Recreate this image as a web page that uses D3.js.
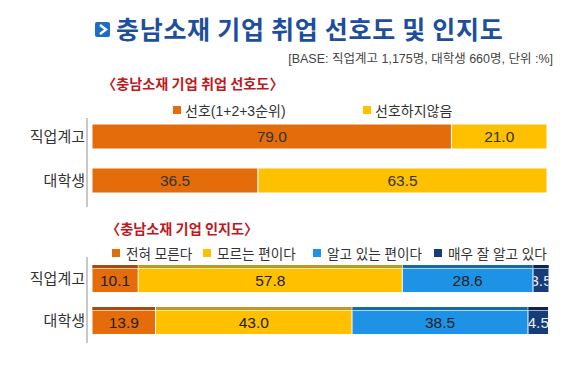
<!DOCTYPE html>
<html><head><meta charset="utf-8">
<script src="https://cdn.jsdelivr.net/npm/d3@7"></script>
<style>
html,body{margin:0;padding:0;background:#fff;}
svg{display:block;font-family:"Liberation Sans","Noto Sans CJK KR",sans-serif;}
</style></head>
<body>
<svg id="c" width="580" height="365"></svg>
<script>
const categories = ["직업계고", "대학생"];
// Chart 1: preference
const prefSeries = ["선호(1+2+3순위)", "선호하지않음"];
const prefValues = [[79.0, 21.0], [36.5, 63.5]];
// Chart 2: awareness
const awareSeries = ["전혀 모른다", "모르는 편이다", "알고 있는 편이다", "매우 잘 알고 있다"];
const awareValues = [[10.1, 57.8, 28.6, 3.5], [13.9, 43.0, 38.5, 4.5]];

const titleText = "충남소재 기업 취업 선호도 및 인지도";
const baseText = "[BASE: 직업계고 1,175명, 대학생 660명, 단위 :%]";
const sub1 = "〈충남소재 기업 취업 선호도〉";
const sub2 = "〈충남소재 기업 인지도〉";

const prefColors = ["#E46C0A", "#FFC000"];
const awareColors = ["#E46C0A", "#FFC000", "#1E93E6", "#163D78"];
const awareDark = ["#A44B12", "#BE962A", "#1967AA", "#0E2550"];

const svg = d3.select("#c");
const KR = "'Noto Sans CJK KR', sans-serif";

// Title icon
const ic = svg.append("g");
ic.append("rect").attr("x", 95).attr("y", 22).attr("width", 15).attr("height", 15).attr("rx", 2).attr("fill", "#1C6CC8");
ic.append("path").attr("d", "M100,25 L106,29.5 L100,34").attr("fill", "none").attr("stroke", "#fff").attr("stroke-width", 2.4);
svg.append("text").attr("x", 116).attr("y", 38.5).attr("font-size", 25).attr("font-weight", 700)
  .attr("letter-spacing", 0.7).attr("font-family", KR)
  .attr("fill", "#1D4F9C").text(titleText);
svg.append("text").attr("x", 553).attr("y", 63).attr("text-anchor", "end").attr("font-size", 12.5)
  .attr("fill", "#444").text(baseText);

// ---------- Chart 1 ----------
svg.append("text").attr("x", 102).attr("y", 88.5).attr("font-size", 14.2).attr("font-weight", 700)
  .attr("font-family", KR).attr("fill", "#C0181C").text(sub1);

const x1 = d3.scaleLinear().domain([0, 100]).range([92, 547]);
const y1 = d3.scaleBand().domain(categories).range([124, 193]).paddingInner(19/44).paddingOuter(0);

// legend chart 1
const leg1x = [173, 363];
prefSeries.forEach((s, i) => {
  svg.append("rect").attr("x", leg1x[i]).attr("y", 106).attr("width", 8).attr("height", 8).attr("fill", prefColors[i]);
  svg.append("text").attr("x", leg1x[i] + 12).attr("y", 115.5).attr("font-size", 14).attr("fill", "#333").text(s);
});

svg.append("line").attr("x1", 87).attr("x2", 87).attr("y1", 118).attr("y2", 207).attr("stroke", "#C8C8C8").attr("stroke-width", 2);

categories.forEach((c, r) => {
  let acc = 0;
  prefValues[r].forEach((v, i) => {
    const xs = x1(acc), xe = x1(acc + v);
    svg.append("rect").attr("x", xs).attr("y", y1(c)).attr("width", xe - xs).attr("height", y1.bandwidth())
      .attr("fill", prefColors[i]).attr("stroke", "#fff").attr("stroke-width", 1);
    svg.append("text").attr("x", (xs + xe) / 2).attr("y", y1(c) + y1.bandwidth() / 2 + 5.5)
      .attr("text-anchor", "middle").attr("font-size", 15.5).attr("fill", "#333").text(v.toFixed(1));
    acc += v;
  });
  svg.append("text").attr("x", 85).attr("y", y1(c) + y1.bandwidth() / 2 + 5.5).attr("text-anchor", "end")
    .attr("font-size", 15).attr("fill", "#333").text(c);
});

// ---------- Chart 2 ----------
svg.append("text").attr("x", 106).attr("y", 233.5).attr("font-size", 14.2).attr("font-weight", 700)
  .attr("font-family", KR).attr("fill", "#C0181C").text(sub2);

const x2 = d3.scaleLinear().domain([0, 100]).range([92, 549]);
const y2 = d3.scaleBand().domain(categories).range([265, 334]).paddingInner(15/42).paddingOuter(0);

const leg2x = [112, 203, 313, 434];
awareSeries.forEach((s, i) => {
  svg.append("rect").attr("x", leg2x[i]).attr("y", 249).attr("width", 8).attr("height", 8).attr("fill", awareColors[i]);
  svg.append("text").attr("x", leg2x[i] + 14).attr("y", 258.5).attr("font-size", 13.6).attr("fill", "#333").text(s);
});

svg.append("line").attr("x1", 87).attr("x2", 87).attr("y1", 257).attr("y2", 343).attr("stroke", "#C8C8C8").attr("stroke-width", 2);

const defs = svg.append("defs");
categories.forEach((c, r) => {
  let acc = 0;
  const y = y2(c), h = y2.bandwidth();
  awareValues[r].forEach((v, i) => {
    const xs = x2(acc), xe = x2(acc + v);
    const w = xe - xs;
    const id = "clip" + r + "_" + i;
    defs.append("clipPath").attr("id", id).append("rect").attr("x", xs + 0.5).attr("y", y).attr("width", w - 1).attr("height", h);
    svg.append("rect").attr("x", xs + 0.5).attr("y", y).attr("width", w - 1).attr("height", h).attr("fill", awareColors[i]);
    svg.append("rect").attr("x", xs + 0.5).attr("y", y).attr("width", w - 1).attr("height", 3).attr("fill", awareDark[i]);
    svg.append("rect").attr("x", xs + 0.5).attr("y", y + 3).attr("width", w - 1).attr("height", 1).attr("fill", "#fff").attr("opacity", 0.6);
    svg.append("text").attr("x", (xs + xe) / 2).attr("y", y + 4 + (h - 4) / 2 + 5.5)
      .attr("clip-path", "url(#" + id + ")")
      .attr("text-anchor", "middle").attr("font-size", 15.5).attr("fill", i === 3 ? "#E8EEF8" : "#222").text(v.toFixed(1));
    acc += v;
  });
  svg.append("text").attr("x", 85).attr("y", y + h / 2 + 5.5).attr("text-anchor", "end")
    .attr("font-size", 15).attr("fill", "#333").text(c);
});
</script>
</body></html>
